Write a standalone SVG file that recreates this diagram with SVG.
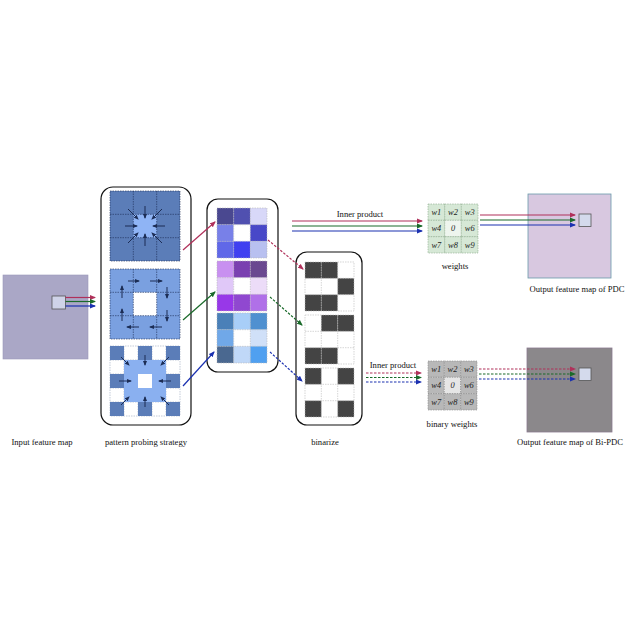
<svg xmlns="http://www.w3.org/2000/svg" width="631" height="631" viewBox="0 0 631 631">
<defs>
<style>
.lbl{font-family:"Liberation Serif","Times New Roman",serif;font-size:8.6px;fill:#111;text-anchor:middle}
.w{font-family:"Liberation Serif","Times New Roman",serif;font-size:8.4px;font-style:italic;fill:#222;text-anchor:middle}
.box{fill:none;stroke:#111;stroke-width:1.2}
.cell{stroke:#bbb;stroke-width:0.6;stroke-dasharray:1.5,1}
.pcell{stroke:#1c2d55;stroke-width:0.6;stroke-dasharray:1.5,1}
.pa{stroke:#1c2d55;stroke-width:1;fill:none;marker-end:url(#mn)}
.r{stroke:#b0305a;stroke-width:1.2;fill:none;marker-end:url(#mr)}
.g{stroke:#1a6a2a;stroke-width:1.2;fill:none;marker-end:url(#mg)}
.b{stroke:#1a30b0;stroke-width:1.2;fill:none;marker-end:url(#mb)}
.d{stroke-dasharray:2.5,1.5}
.dk{fill:#444}
.wt{fill:#d6e8d6;stroke:#8aa88a;stroke-width:0.6;stroke-dasharray:1.5,1}
.bw{fill:#b8b8b8;stroke:#888;stroke-width:0.6;stroke-dasharray:1.5,1}
</style>
<marker id="mr" markerWidth="6" markerHeight="6" refX="5" refY="3" orient="auto" markerUnits="userSpaceOnUse"><path d="M0,0.5 L6,3 L0,5.5 z" fill="#b0305a"/></marker>
<marker id="mg" markerWidth="6" markerHeight="6" refX="5" refY="3" orient="auto" markerUnits="userSpaceOnUse"><path d="M0,0.5 L6,3 L0,5.5 z" fill="#1a6a2a"/></marker>
<marker id="mb" markerWidth="6" markerHeight="6" refX="5" refY="3" orient="auto" markerUnits="userSpaceOnUse"><path d="M0,0.5 L6,3 L0,5.5 z" fill="#1a30b0"/></marker>
<marker id="mn" markerWidth="5" markerHeight="5" refX="4" refY="2.5" orient="auto" markerUnits="userSpaceOnUse"><path d="M0,0.5 L5,2.5 L0,4.5 z" fill="#1c2d55"/></marker>
</defs>
<rect width="631" height="631" fill="#fff"/>

<g id="input">
<rect x="3" y="275" width="85" height="84" fill="#aaa7c6" stroke="#9a98b8" stroke-width="0.6"/>
<rect x="52" y="296" width="13.5" height="13" fill="#cfd3e8" stroke="#555" stroke-width="0.8"/>
<text class="lbl" x="42" y="445">Input feature map</text>
</g>

<g id="patterns">
<rect class="box" x="101" y="187" width="90" height="238" rx="12"/>
<g>
<rect x="110" y="191" width="70" height="70" fill="#5b7db8"/>
<rect x="133.3" y="214.3" width="23.4" height="23.4" fill="#8fb4f5"/>
<path class="pcell" fill="none" d="M110,191h70v70h-70z M133.3,191v70 M156.7,191v70 M110,214.3h70 M110,237.7h70"/>
<path class="pa" d="M128,209 L138,219"/>
<path class="pa" d="M162,209 L152,219"/>
<path class="pa" d="M128,243 L138,233"/>
<path class="pa" d="M162,243 L152,233"/>
<path class="pa" d="M145,206 L145,218"/>
<path class="pa" d="M145,246 L145,234"/>
<path class="pa" d="M125,226 L137,226"/>
<path class="pa" d="M165,226 L153,226"/>
</g>
<g>
<rect x="110" y="269" width="70" height="70" fill="#7aa0e0"/>
<rect x="133.3" y="292.3" width="23.4" height="23.4" fill="#fff"/>
<path class="pcell" fill="none" d="M110,269h70v70h-70z M133.3,269v70 M156.7,269v70 M110,292.3h70 M110,315.7h70"/>
<path class="pa" d="M128,281 L139,281"/>
<path class="pa" d="M150,281 L162,281"/>
<path class="pa" d="M167,287 L167,298"/>
<path class="pa" d="M167,310 L167,321"/>
<path class="pa" d="M139,327 L127,327"/>
<path class="pa" d="M162,327 L150,327"/>
<path class="pa" d="M122,298 L122,286"/>
<path class="pa" d="M122,321 L122,309"/>
</g>
<g>
<rect x="110" y="346" width="70" height="70" fill="#fff"/>
<path class="pcell" fill="none" style="stroke:#9aa8c0" d="M110,346h70v70h-70z M124,346v70 M138,346v70 M152,346v70 M166,346v70 M110,360h70 M110,374h70 M110,388h70 M110,402h70"/>
<g fill="#5b7db8">
<rect x="110" y="346" width="14" height="14"/><rect x="138" y="346" width="14" height="14"/><rect x="166" y="346" width="14" height="14"/>
<rect x="110" y="374" width="14" height="14"/><rect x="166" y="374" width="14" height="14"/>
<rect x="110" y="402" width="14" height="14"/><rect x="138" y="402" width="14" height="14"/><rect x="166" y="402" width="14" height="14"/>
</g>
<rect x="124" y="360" width="42" height="42" fill="#8ab0f0"/>
<rect x="138" y="374" width="14" height="14" fill="#fff"/>
<path class="pa" d="M121,357 L129,365"/>
<path class="pa" d="M145,355 L145,365"/>
<path class="pa" d="M169,357 L161,365"/>
<path class="pa" d="M119,381 L131,381"/>
<path class="pa" d="M171,381 L159,381"/>
<path class="pa" d="M121,405 L129,397"/>
<path class="pa" d="M145,407 L145,397"/>
<path class="pa" d="M169,405 L161,397"/>
</g>
<text class="lbl" x="146" y="445">pattern probing strategy</text>
</g>

<g id="colored">
<rect class="box" x="207" y="199" width="71" height="173" rx="11"/>
<g>
<rect x="217" y="208" width="16.7" height="16.7" fill="#4a4890"/><rect x="233.7" y="208" width="16.7" height="16.7" fill="#5050b0"/><rect x="250.3" y="208" width="16.7" height="16.7" fill="#d8d8f8"/>
<rect x="217" y="224.7" width="16.7" height="16.7" fill="#7880e8"/><rect x="233.7" y="224.7" width="16.7" height="16.7" fill="#fff"/><rect x="250.3" y="224.7" width="16.7" height="16.7" fill="#4848c8"/>
<rect x="217" y="241.3" width="16.7" height="16.7" fill="#6068e8"/><rect x="233.7" y="241.3" width="16.7" height="16.7" fill="#4040f0"/><rect x="250.3" y="241.3" width="16.7" height="16.7" fill="#b8c0f0"/>
<path class="cell" fill="none" d="M217,208h50v50h-50z M233.7,208v50 M250.3,208v50 M217,224.7h50 M217,241.3h50"/>
</g>
<g>
<rect x="217" y="261" width="16.7" height="16.7" fill="#c890f0"/><rect x="233.7" y="261" width="16.7" height="16.7" fill="#7a40b0"/><rect x="250.3" y="261" width="16.7" height="16.7" fill="#6a4890"/>
<rect x="217" y="277.7" width="16.7" height="16.7" fill="#e0c8f8"/><rect x="233.7" y="277.7" width="16.7" height="16.7" fill="#fff"/><rect x="250.3" y="277.7" width="16.7" height="16.7" fill="#ecdcf8"/>
<rect x="217" y="294.3" width="16.7" height="16.7" fill="#9838e8"/><rect x="233.7" y="294.3" width="16.7" height="16.7" fill="#9048d0"/><rect x="250.3" y="294.3" width="16.7" height="16.7" fill="#b070e8"/>
<path class="cell" fill="none" d="M217,261h50v50h-50z M233.7,261v50 M250.3,261v50 M217,277.7h50 M217,294.3h50"/>
</g>
<g>
<rect x="217" y="313" width="16.7" height="16.7" fill="#4a80b8"/><rect x="233.7" y="313" width="16.7" height="16.7" fill="#a8cef8"/><rect x="250.3" y="313" width="16.7" height="16.7" fill="#4f90d0"/>
<rect x="217" y="329.7" width="16.7" height="16.7" fill="#70a8e8"/><rect x="233.7" y="329.7" width="16.7" height="16.7" fill="#fff"/><rect x="250.3" y="329.7" width="16.7" height="16.7" fill="#d0e0f8"/>
<rect x="217" y="346.3" width="16.7" height="16.7" fill="#4a6890"/><rect x="233.7" y="346.3" width="16.7" height="16.7" fill="#c0d8f8"/><rect x="250.3" y="346.3" width="16.7" height="16.7" fill="#50a0f0"/>
<path class="cell" fill="none" d="M217,313h50v50h-50z M233.7,313v50 M250.3,313v50 M217,329.7h50 M217,346.3h50"/>
</g>
</g>

<g id="binarize">
<rect class="box" x="296" y="252" width="66" height="173" rx="11"/>
<g>
<rect x="305" y="262" width="49" height="49" fill="#fff"/>
<rect class="dk" x="305" y="262" width="16.3" height="16.3"/><rect class="dk" x="321.3" y="262" width="16.3" height="16.3"/>
<rect class="dk" x="337.7" y="278.3" width="16.3" height="16.3"/>
<rect class="dk" x="305" y="294.7" width="16.3" height="16.3"/><rect class="dk" x="321.3" y="294.7" width="16.3" height="16.3"/>
<path class="cell" fill="none" d="M305,262h49v49h-49z M321.3,262v49 M337.7,262v49 M305,278.3h49 M305,294.7h49"/>
</g>
<g>
<rect x="305" y="315" width="49" height="49" fill="#fff"/>
<rect class="dk" x="321.3" y="315" width="16.3" height="16.3"/><rect class="dk" x="337.7" y="315" width="16.3" height="16.3"/>
<rect class="dk" x="305" y="347.7" width="16.3" height="16.3"/><rect class="dk" x="321.3" y="347.7" width="16.3" height="16.3"/>
<path class="cell" fill="none" d="M305,315h49v49h-49z M321.3,315v49 M337.7,315v49 M305,331.3h49 M305,347.7h49"/>
</g>
<g>
<rect x="305" y="368" width="49" height="49" fill="#fff"/>
<rect class="dk" x="305" y="368" width="16.3" height="16.3"/><rect class="dk" x="337.7" y="368" width="16.3" height="16.3"/>
<rect class="dk" x="305" y="400.7" width="16.3" height="16.3"/><rect class="dk" x="337.7" y="400.7" width="16.3" height="16.3"/>
<path class="cell" fill="none" d="M305,368h49v49h-49z M321.3,368v49 M337.7,368v49 M305,384.3h49 M305,400.7h49"/>
</g>
<text class="lbl" x="325" y="445">binarize</text>
</g>

<g id="weights">
<rect class="wt" x="428" y="204" width="16.7" height="16.3"/><rect class="wt" x="444.7" y="204" width="16.7" height="16.3"/><rect class="wt" x="461.3" y="204" width="16.7" height="16.3"/>
<rect class="wt" x="428" y="220.3" width="16.7" height="16.3"/><rect class="wt" x="444.7" y="220.3" width="16.7" height="16.3" style="fill:#eef5ee"/><rect class="wt" x="461.3" y="220.3" width="16.7" height="16.3"/>
<rect class="wt" x="428" y="236.7" width="16.7" height="16.3"/><rect class="wt" x="444.7" y="236.7" width="16.7" height="16.3"/><rect class="wt" x="461.3" y="236.7" width="16.7" height="16.3"/>
<text class="w" x="436.3" y="215">w1</text><text class="w" x="453" y="215">w2</text><text class="w" x="469.7" y="215">w3</text>
<text class="w" x="436.3" y="231.3">w4</text><text class="w" x="453" y="231.3">0</text><text class="w" x="469.7" y="231.3">w6</text>
<text class="w" x="436.3" y="247.7">w7</text><text class="w" x="453" y="247.7">w8</text><text class="w" x="469.7" y="247.7">w9</text>
<text class="lbl" x="455" y="269">weights</text>
</g>

<g id="binary-weights">
<rect class="bw" x="428" y="361" width="16.3" height="16.3"/><rect class="bw" x="444.3" y="361" width="16.3" height="16.3"/><rect class="bw" x="460.7" y="361" width="16.3" height="16.3"/>
<rect class="bw" x="428" y="377.3" width="16.3" height="16.3"/><rect class="bw" x="444.3" y="377.3" width="16.3" height="16.3" style="fill:#e6e6e6"/><rect class="bw" x="460.7" y="377.3" width="16.3" height="16.3"/>
<rect class="bw" x="428" y="393.7" width="16.3" height="16.3"/><rect class="bw" x="444.3" y="393.7" width="16.3" height="16.3"/><rect class="bw" x="460.7" y="393.7" width="16.3" height="16.3"/>
<text class="w" x="436.2" y="372">w1</text><text class="w" x="452.5" y="372">w2</text><text class="w" x="468.8" y="372">w3</text>
<text class="w" x="436.2" y="388.3">w4</text><text class="w" x="452.5" y="388.3">0</text><text class="w" x="468.8" y="388.3">w6</text>
<text class="w" x="436.2" y="404.7">w7</text><text class="w" x="452.5" y="404.7">w8</text><text class="w" x="468.8" y="404.7">w9</text>
<text class="lbl" x="452" y="427">binary weights</text>
</g>

<g id="output-pdc">
<rect x="528" y="194" width="83" height="84" fill="#d8c8e0" stroke="#6a9aaa" stroke-width="0.8"/>
<rect x="579" y="214" width="12" height="12.5" fill="#d4daec" stroke="#555" stroke-width="0.8"/>
<text class="lbl" x="577" y="292">Output feature map of PDC</text>
</g>

<g id="output-bipdc">
<rect x="527" y="348" width="85" height="84" fill="#8b888b" stroke="#8a7a90" stroke-width="0.8"/>
<rect x="579" y="368" width="12" height="12.5" fill="#d4daec" stroke="#555" stroke-width="0.8"/>
<text class="lbl" x="570" y="445">Output feature map of Bi-PDC</text>
</g>

<g id="connectors">
<path class="r" d="M65.5,297.5 L95,297.5"/>
<path class="g" d="M65.5,301.5 L95,301.5"/>
<path class="b" d="M65.5,306 L95,306"/>

<path class="r" d="M183,250 L215,222"/>
<path class="g" d="M183,320 L215,292"/>
<path class="b" d="M183,386 L214,352"/>

<path class="r d" d="M268,240 L303,269"/>
<path class="g d" d="M270,297 L302,325"/>
<path class="b d" d="M270,352 L302,381"/>

<path class="r" d="M292,221 L422,221"/>
<path class="g" d="M292,226 L422,226"/>
<path class="b" d="M292,231 L422,231"/>
<text class="lbl" x="360" y="217">Inner product</text>

<path class="r d" d="M366,373 L421,373"/>
<path class="g d" d="M366,377.5 L421,377.5"/>
<path class="b d" d="M366,382 L421,382"/>
<text class="lbl" x="393" y="368">Inner product</text>

<path class="r" d="M480,215 L575,215"/>
<path class="g" d="M480,220 L575,220"/>
<path class="b" d="M480,225 L575,225"/>

<path class="r d" d="M479,369 L575,369"/>
<path class="g d" d="M479,374 L575,374"/>
<path class="b d" d="M479,379 L575,379"/>
</g>
</svg>
